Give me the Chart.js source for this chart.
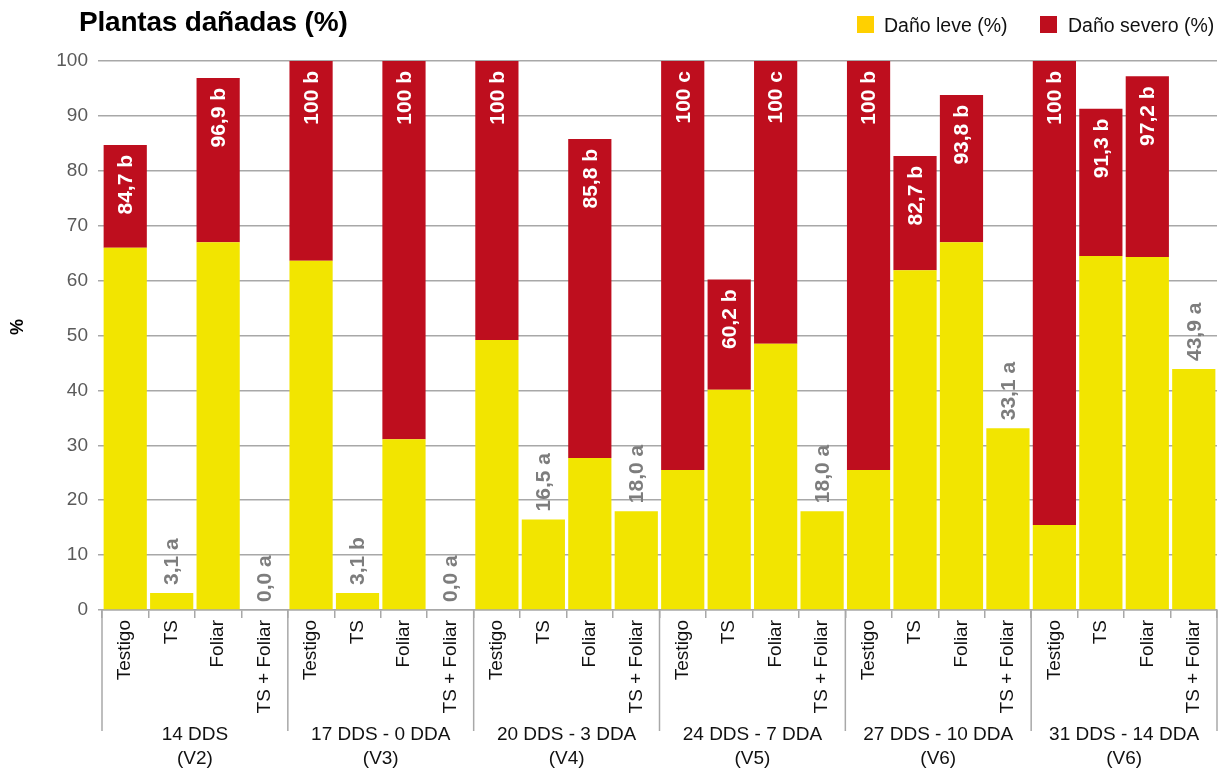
<!DOCTYPE html>
<html>
<head>
<meta charset="utf-8">
<script src="https://cdn.jsdelivr.net/npm/chart.js@4/dist/chart.umd.min.js"></script>
<style>
  html, body { margin: 0; padding: 0; background: #fff; }
  #wrap { position: relative; width: 1226px; height: 774px; font-family: "Liberation Sans", Arial, sans-serif; }
  #titulo { position: absolute; left: 79px; top: 8px; font-size: 28px; line-height: 28px; font-weight: bold; letter-spacing: -0.2px; color: #000; }
  .ley-box { position: absolute; top: 16px; width: 17px; height: 17px; }
  .ley-txt { position: absolute; top: 15px; font-size: 19.5px; line-height: 20px; color: #111; }
  canvas { position: absolute; left: 0; top: 0; }
</style>
</head>
<body>
<div id="wrap">
  <canvas id="grafico" width="1226" height="774"></canvas>
  <div id="titulo">Plantas dañadas (%)</div>
  <div class="ley-box" style="left:857px;background:#ffd000"></div>
  <div class="ley-txt" style="left:884px">Daño leve (%)</div>
  <div class="ley-box" style="left:1040px;background:#be0e1e"></div>
  <div class="ley-txt" style="left:1068px">Daño severo (%)</div>
</div>
<script>
const grupos = [
  ["14 DDS", "(V2)"],
  ["17 DDS - 0 DDA", "(V3)"],
  ["20 DDS - 3 DDA", "(V4)"],
  ["24 DDS - 7 DDA", "(V5)"],
  ["27 DDS - 10 DDA", "(V6)"],
  ["31 DDS - 14 DDA", "(V6)"],
];
const tratamientos = ["Testigo", "TS", "Foliar", "TS + Foliar"];

// % plantas con daño leve / severo
const danoLeve = [66.0, 3.1, 67.0, 0, 63.6, 3.1, 31.1, 0, 49.2, 16.5, 27.7, 18.0,
  25.5, 40.1, 48.5, 18.0, 25.5, 61.9, 67.0, 33.1, 15.5, 64.5, 64.3, 43.9];
const danoSevero = [18.7, 0, 29.9, 0, 36.4, 0, 68.9, 0, 50.8, 0, 58.1, 0,
  74.5, 20.1, 51.5, 0, 74.5, 20.8, 26.8, 0, 84.5, 26.8, 32.9, 0];
const totales = ["84,7", "3,1", "96,9", "0,0", "100", "3,1", "100", "0,0", "100", "16,5", "85,8", "18,0",
  "100", "60,2", "100", "18,0", "100", "82,7", "93,8", "33,1", "100", "91,3", "97,2", "43,9"];
const letras = ["b", "a", "b", "a", "b", "b", "b", "a", "b", "a", "b", "a",
  "c", "b", "c", "a", "b", "b", "b", "a", "b", "b", "b", "a"];
const yTicks = [0, 10, 20, 30, 40, 50, 60, 70, 80, 90, 100];

const categorias = grupos.flatMap(() => tratamientos);
const FONT = "'Liberation Sans', Arial, sans-serif";
const GRIS = "#a8a8a8";

const etiquetasPlugin = {
  id: "etiquetas",
  afterDatasetsDraw(chart) {
    const { ctx, scales } = chart;
    const meta = chart.getDatasetMeta(0);
    ctx.save();
    ctx.font = `bold 21px ${FONT}`;
    ctx.textBaseline = "middle";
    meta.data.forEach((bar, i) => {
      const top = scales.y.getPixelForValue(danoLeve[i] + danoSevero[i]);
      const texto = `${totales[i]} ${letras[i]}`;
      ctx.save();
      if (danoSevero[i] > 0) {
        ctx.translate(bar.x, top + 10);
        ctx.rotate(-Math.PI / 2);
        ctx.fillStyle = "#fff";
        ctx.textAlign = "right";
      } else {
        ctx.translate(bar.x, top - 8);
        ctx.rotate(-Math.PI / 2);
        ctx.fillStyle = "#7d7d7d";
        ctx.textAlign = "left";
      }
      ctx.fillText(texto, 0, 1);
      ctx.restore();
    });
    ctx.restore();
  },
};

const gruposPlugin = {
  id: "grupos",
  afterDraw(chart) {
    const { ctx, chartArea, scales } = chart;
    const x = scales.x;
    const mitad = (x.getPixelForValue(1) - x.getPixelForValue(0)) / 2;
    const n = tratamientos.length;
    ctx.save();
    ctx.strokeStyle = GRIS;
    ctx.lineWidth = 1.5;
    for (let g = 0; g <= grupos.length; g++) {
      const px = g === 0 ? chartArea.left : x.getPixelForValue(g * n - 1) + mitad;
      ctx.beginPath();
      ctx.moveTo(px, chartArea.bottom);
      ctx.lineTo(px, 731);
      ctx.stroke();
    }
    ctx.fillStyle = "#111";
    ctx.font = `19px ${FONT}`;
    ctx.textAlign = "center";
    ctx.textBaseline = "middle";
    grupos.forEach((lineas, g) => {
      const cx = (x.getPixelForValue(g * n) + x.getPixelForValue(g * n + n - 1)) / 2;
      ctx.fillText(lineas[0], cx, 735);
      ctx.fillText(lineas[1], cx, 759);
    });
    // título del eje Y
    ctx.fillStyle = "#000";
    ctx.font = `bold 18px ${FONT}`;
    ctx.translate(18, 327);
    ctx.rotate(-Math.PI / 2);
    ctx.fillText("%", 0, 0);
    ctx.restore();
  },
};

new Chart(document.getElementById("grafico"), {
  type: "bar",
  data: {
    labels: categorias,
    datasets: [
      { label: "Daño leve (%)", data: danoLeve, backgroundColor: "#f2e500" },
      { label: "Daño severo (%)", data: danoSevero, backgroundColor: "#be0e1e" },
    ],
  },
  options: {
    responsive: false,
    animation: false,
    barPercentage: 0.93,
    categoryPercentage: 1.0,
    layout: { padding: { top: 61, left: 8, right: 9, bottom: 0 } },
    plugins: {
      legend: { display: false },
      tooltip: { enabled: false },
    },
    scales: {
      x: {
        stacked: true,
        ticks: {
          autoSkip: false,
          minRotation: 90,
          maxRotation: 90,
          color: "#111",
          padding: 2,
          font: { family: FONT, size: 19 },
        },
        grid: { drawOnChartArea: false, offset: true, tickLength: 8, color: GRIS, lineWidth: 1.5 },
        border: { color: GRIS, width: 1.5 },
        afterFit(scale) { scale.height = 164; },
      },
      y: {
        stacked: true,
        min: 0,
        max: 100,
        afterBuildTicks(scale) { scale.ticks = yTicks.map((v) => ({ value: v })); },
        ticks: { color: "#5a5a5a", padding: 10, font: { family: FONT, size: 19 } },
        grid: { color: GRIS, lineWidth: 1.5, tickLength: 4 },
        border: { display: false },
        afterFit(scale) { scale.width = 94; },
      },
    },
  },
  plugins: [etiquetasPlugin, gruposPlugin],
});
</script>
</body>
</html>
